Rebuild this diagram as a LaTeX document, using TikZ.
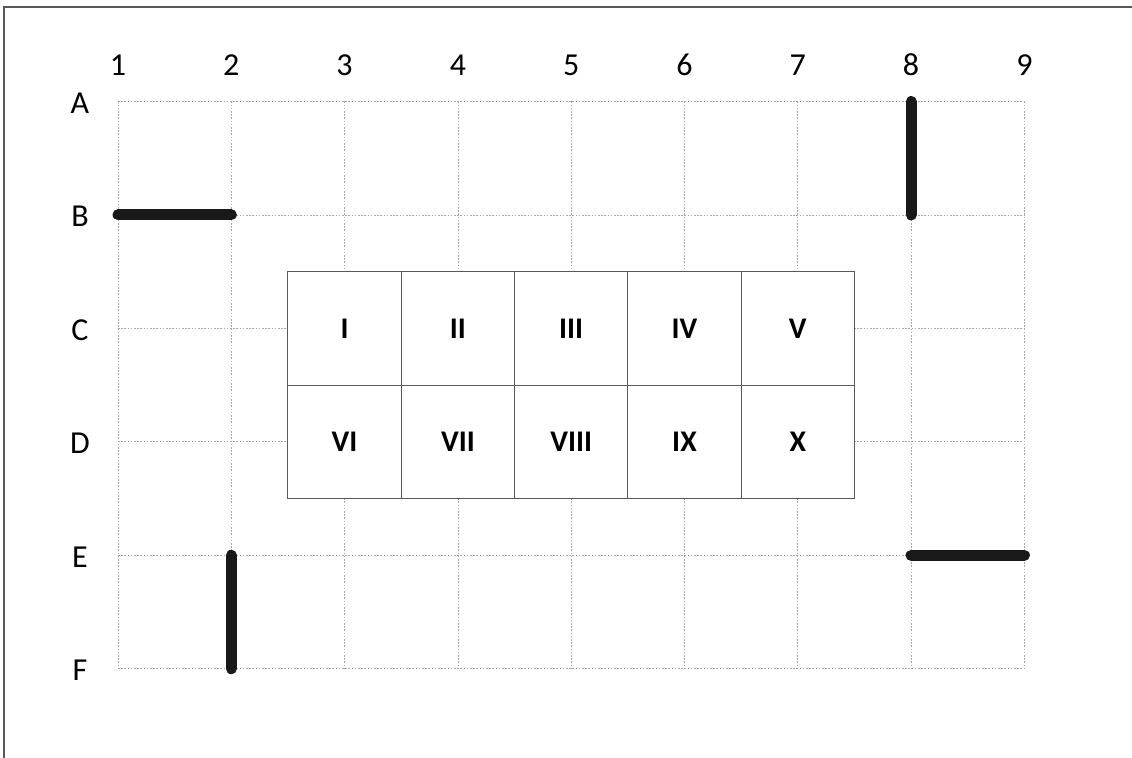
\documentclass[tikz,border=0pt]{standalone}
\usepackage{fontspec}
\setmainfont{Carlito}
\begin{document}
\begin{tikzpicture}[x=0.5pt,y=-0.5pt,
  framestyle/.style={draw=black!65, line width=0.8pt},
  gridline/.style={draw=black!35, line width=0.4pt, dash pattern=on 0.8pt off 0.8pt},
  cellbox/.style={draw=black!65, fill=white, line width=0.5pt, minimum width=56.65pt, minimum height=56.7pt, inner sep=0pt, font=\fontsize{15}{18}\selectfont\bfseries},
  lab/.style={inner sep=0pt, font=\fontsize{16}{19}\selectfont},
  bar/.style={draw=black!90, line width=5.5pt, line cap=round}]
\useasboundingbox (0,0) rectangle (1132,758);
\draw[framestyle] (4,758) -- (4,7) -- (1132,7);
% grid coordinates
\foreach \i in {1,...,9}{
  \foreach \j in {1,...,6}{
    \pgfmathsetmacro\gx{118+113.3*(\i-1)}
    \pgfmathsetmacro\gy{101.5+113.45*(\j-1)}
    \coordinate (g-\i-\j) at (\gx,\gy);
  }
}
\foreach \i in {1,...,9}{ \draw[gridline] (g-\i-1) -- (g-\i-6); }
\foreach \j in {1,...,6}{ \draw[gridline] (g-1-\j) -- (g-9-\j); }
% column labels
\foreach \i in {1,...,9}{
  \pgfmathsetmacro\gx{118+113.3*(\i-1)}
  \node[lab] (col-\i) at (\gx,65) {\i};
}
% row labels
\foreach \l [count=\j] in {A,B,C,D,E,F}{
  \pgfmathsetmacro\gy{103+113.45*(\j-1)}
  \node[lab] (row-\j) at (80,\gy) {\l};
}
% table
\foreach \t [count=\k] in {I,II,III,IV,V}{
  \pgfmathsetmacro\cx{344.6+113.3*(\k-1)}
  \node[cellbox] (c-\k) at (\cx,328.5) {\t};
}
\foreach \t [count=\k] in {VI,VII,VIII,IX,X}{
  \pgfmathsetmacro\cx{344.6+113.3*(\k-1)}
  \node[cellbox] (d-\k) at (\cx,441.9) {\t};
}
% bars
\draw[bar] (g-1-2) -- (g-2-2);
\draw[bar] (g-8-1) -- (g-8-2);
\draw[bar] (g-8-5) -- (g-9-5);
\draw[bar] (g-2-5) -- (g-2-6);
\end{tikzpicture}
\end{document}
